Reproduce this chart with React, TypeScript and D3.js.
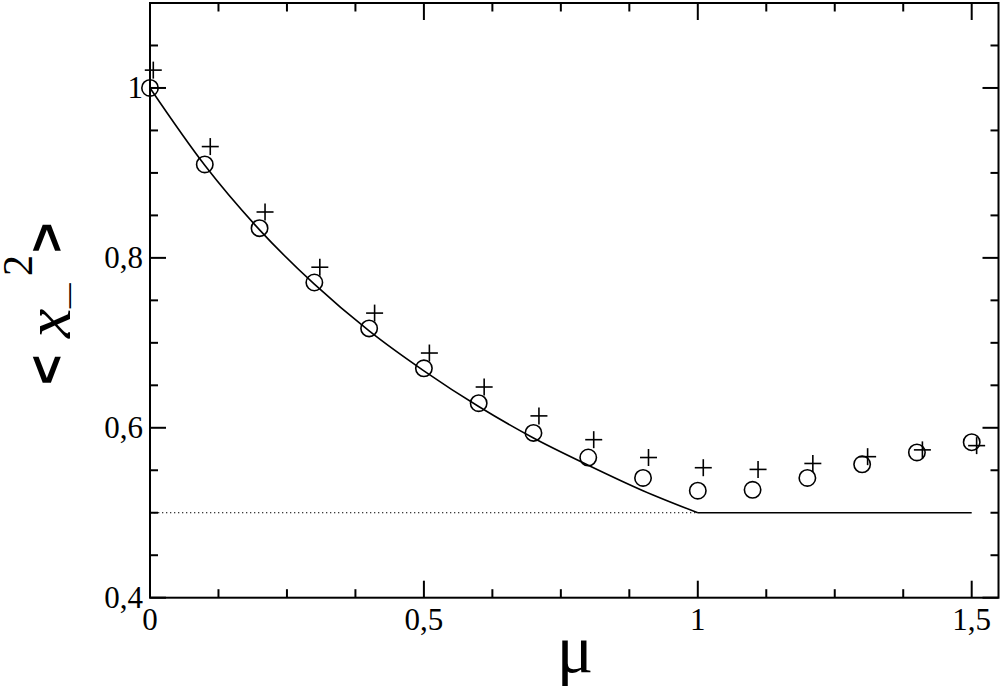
import * as d3 from 'd3';

// values
const muValues = [0, 0.1, 0.2, 0.3, 0.4, 0.5, 0.6, 0.7, 0.8, 0.9, 1.0, 1.1, 1.2, 1.3, 1.4, 1.5];
const circleValues = [1.0, 0.91, 0.835, 0.771, 0.717, 0.67, 0.629, 0.594, 0.565, 0.541, 0.526, 0.527, 0.541, 0.557, 0.571, 0.583];
const plusMu = [0.006, 0.11, 0.21, 0.31, 0.41, 0.51, 0.61, 0.71, 0.81, 0.91, 1.01, 1.11, 1.21, 1.31, 1.41, 1.509];
const plusValues = [1.021, 0.931, 0.854, 0.789, 0.735, 0.688, 0.648, 0.614, 0.586, 0.565, 0.553, 0.551, 0.558, 0.566, 0.574, 0.579];

const curveMu = [0, 0.1, 0.2, 0.3, 0.4, 0.5, 0.6, 0.7, 0.8, 0.9, 1.0];
const curveValues = [1.0, 0.909, 0.833, 0.769, 0.714, 0.667, 0.625, 0.588, 0.556, 0.526, 0.5];
const flatMu = [1.0, 1.5];
const flatValues = [0.5, 0.5];
const dottedMu = [0, 1.0];
const dottedValues = [0.5, 0.5];

const xMajor = [0, 0.5, 1, 1.5];
const xLabels = ['0', '0,5', '1', '1,5'];
const yMajor = [0.4, 0.6, 0.8, 1.0];
const yLabels = ['0,4', '0,6', '0,8', '1'];

const W = 1003, H = 688;
const left = 150, right = 998.5, top = 3, bottom = 597.7;

export default function App(){
	const x = d3.scaleLinear().domain([0, 1.55]).range([left, left + (1.55 / 1.5) * (971.7 - left)])
		, y = d3.scaleLinear().domain([0.4, 1.1]).range([bottom, top])
		, xMinor = d3.range(0, 1.55, 0.125).filter(v => !xMajor.some(m => Math.abs(m - v) < 1e-6))
		, yMinor = d3.range(0.4, 1.1, 0.05).filter(v => !yMajor.some(m => Math.abs(m - v) < 1e-6))
		, line = d3.line<[number, number]>().x(d => x(d[0])).y(d => y(d[1]))
		, smooth = d3.line<[number, number]>().x(d => x(d[0])).y(d => y(d[1])).curve(d3.curveMonotoneX)
		, zip = (a: number[], b: number[]) => a.map((v, i) => [v, b[i]] as [number, number])
		, stroke = '#000'
		;

	return (<svg width={W} height={H} style={{position: 'absolute', left: 0, top: 0, background: '#fff'}}>
		<rect x={0} y={0} width={W} height={H} fill="#fff"/>

		{/* ticks */}
		<g stroke={stroke} strokeWidth={2}>
			{xMajor.map((v, i) => <g key={'xm' + i}>
				<line x1={x(v)} x2={x(v)} y1={bottom} y2={bottom - 17}/>
				<line x1={x(v)} x2={x(v)} y1={top} y2={top + 17}/>
			</g>)}
			{xMinor.map((v, i) => <g key={'xn' + i}>
				<line x1={x(v)} x2={x(v)} y1={bottom} y2={bottom - 8.5}/>
				<line x1={x(v)} x2={x(v)} y1={top} y2={top + 8.5}/>
			</g>)}
			{yMajor.map((v, i) => <g key={'ym' + i}>
				<line x1={left} x2={left + 16} y1={y(v)} y2={y(v)}/>
				<line x1={right} x2={right - 16} y1={y(v)} y2={y(v)}/>
			</g>)}
			{yMinor.map((v, i) => <g key={'yn' + i}>
				<line x1={left} x2={left + 8} y1={y(v)} y2={y(v)}/>
				<line x1={right} x2={right - 8} y1={y(v)} y2={y(v)}/>
			</g>)}
		</g>

		{/* lines */}
		<path d={line(zip(dottedMu, dottedValues)) || ''} fill="none" stroke={stroke} strokeWidth={1} strokeDasharray="1.3 2.7"/>
		<path d={smooth(zip(curveMu, curveValues)) || ''} fill="none" stroke={stroke} strokeWidth={1.6}/>
		<path d={line(zip(flatMu, flatValues)) || ''} fill="none" stroke={stroke} strokeWidth={1.6}/>

		{/* markers */}
		{muValues.map((m, i) => <circle key={'c' + i} cx={x(m)} cy={y(circleValues[i])} r={8.2}
			fill="none" stroke={stroke} strokeWidth={1.6}/>)}
		{plusMu.map((m, i) => <g key={'p' + i} stroke={stroke} strokeWidth={1.6}>
			<line x1={x(m) - 8.5} x2={x(m) + 8.5} y1={y(plusValues[i])} y2={y(plusValues[i])}/>
			<line x1={x(m)} x2={x(m)} y1={y(plusValues[i]) - 8.5} y2={y(plusValues[i]) + 8.5}/>
		</g>)}

		{/* frame */}
		<rect x={left} y={top} width={right - left} height={bottom - top} fill="none" stroke={stroke} strokeWidth={2}/>

		{/* tick labels */}
		{xMajor.map((v, i) => <text key={'xl' + i} x={x(v)} y={630} textAnchor="middle"
			fontFamily="Liberation Serif" fontSize={31}>{xLabels[i]}</text>)}
		{yMajor.map((v, i) => <text key={'yl' + i} x={143} y={y(v) + 10.5} textAnchor="end"
			fontFamily="Liberation Serif" fontSize={31}>{yLabels[i]}</text>)}

		{/* axis titles */}
		<text x={575} y={672} textAnchor="middle" fontFamily="Liberation Serif" fontSize={68}>μ</text>
		<g transform="rotate(-90)">
			<text x={-385} y={64} fontFamily="Liberation Sans" fontWeight="bold" fontSize={52}>&lt;</text>
			<text x={-338} y={70} fontFamily="Liberation Serif" fontStyle="italic" fontSize={66}>x</text>
			<text x={-308} y={66} fontFamily="Liberation Sans" fontWeight="bold" fontSize={44}>_</text>
			<text x={-276} y={32} fontFamily="Liberation Serif" fontSize={42}>2</text>
			<text x={-253} y={64} fontFamily="Liberation Sans" fontWeight="bold" fontSize={52}>&gt;</text>
		</g>
	</svg>);
}
